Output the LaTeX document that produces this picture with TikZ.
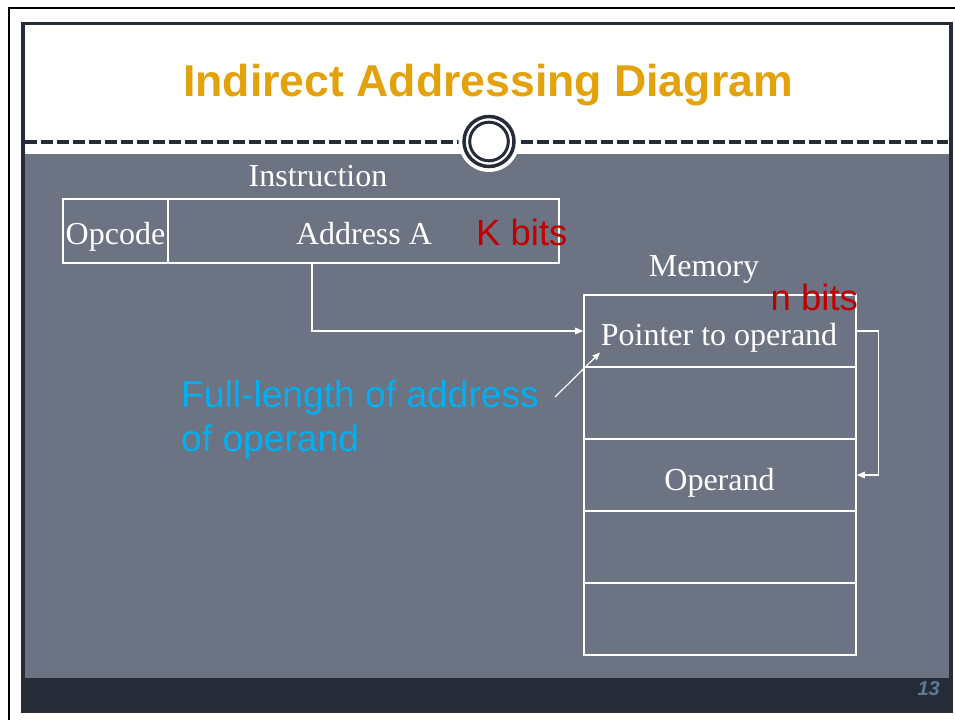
\documentclass[tikz,border=0pt]{standalone}
\usepackage{fontspec}
\setmainfont{Liberation Serif}
\setsansfont{Liberation Sans}
\usetikzlibrary{arrows.meta}
\definecolor{slidegray}{RGB}{108,115,131}
\definecolor{slidedark}{RGB}{38,44,55}
\definecolor{titleorange}{RGB}{228,162,10}
\definecolor{bitred}{RGB}{192,0,0}
\definecolor{notecyan}{RGB}{0,176,240}
\definecolor{pagenum}{RGB}{95,122,150}
\begin{document}
\begin{tikzpicture}[x=1pt,y=-1pt,
  cell/.style={draw=white, line width=1.6pt, inner sep=0pt},
  lbl/.style={text=white, font=\fontsize{32}{37}\selectfont, inner sep=0pt, anchor=base},
  bits/.style={text=bitred, font=\sffamily\fontsize{36.5}{40}\selectfont, inner sep=0pt, anchor=base west},
  note/.style={text=notecyan, font=\sffamily\fontsize{37.2}{44}\selectfont, inner sep=0pt, anchor=base west},
  link/.style={draw=white, line width=1.3pt, -{Triangle[length=8pt,width=6.5pt]}}]
\useasboundingbox (0,0) rectangle (955,720);
\fill[white] (0,0) rectangle (955,720);

% outer page edge
\draw[black, line width=2.2pt] (9,720) -- (9,8.3) -- (955,8.3);

% slide body
\fill[white] (23,23.5) rectangle (950.8,154);
\fill[slidegray] (23,154) rectangle (950.8,678);
\fill[slidedark] (21,678) rectangle (952.5,713);
\draw[slidedark, line width=3.5pt] (23,713) -- (23,23.5) -- (950.8,23.5) -- (950.8,713);

% title rule with ring ornament
\draw[slidedark, line width=4.5pt, dash pattern=on 12pt off 4pt] (25,142) -- (948,142);
\fill[white] (489,141.5) circle[radius=30.5];
\draw[slidedark, line width=3.5pt] (489,141.5) circle[radius=25];
\draw[slidedark, line width=3pt] (489,141.5) circle[radius=19.3];

% title
\node[font=\sffamily\bfseries\fontsize{44.6}{50}\selectfont, text=titleorange, inner sep=0pt, anchor=base]
  (title) at (488,96.7) {Indirect Addressing Diagram};

% instruction word
\node[lbl] (instrlbl) at (318,186.7) {Instruction};
\node[cell, minimum width=105pt, minimum height=64pt] (opc) at (115.5,231) {};
\node[cell, minimum width=391pt, minimum height=64pt] (addr) at (363.5,231) {};
\node[lbl] (opctxt) at (115.5,244) {Opcode};
\node[lbl] (addrtxt) at (364,244) {Address A};
\node[bits] (kbits) at (476,245) {K bits};

% memory
\node[lbl] (memlbl) at (704,276) {Memory};
\foreach \i/\yy in {1/331,2/403,3/475,4/547,5/619}
  \node[cell, minimum width=272pt, minimum height=72pt] (m\i) at (720,\yy) {};
\node[lbl] (ptrtxt) at (719,345.7) {Pointer to operand};
\node[lbl] (optxt) at (719.5,490.7) {Operand};
\node[bits] (nbits) at (770.5,310) {n bits};

% address field points into memory
\draw[link] ([xshift=-51.5pt]addr.south) |- (m1.west);
% pointer word points to the operand
\draw[link] (m1.east) -- ++(22,0) |- (m3.east);

% annotation
\node[note] (note1) at (181,407.7) {Full-length of address};
\node[note] (note2) at (181,451.7) {of operand};
\coordinate (notetail) at (555,397);
\coordinate (ptrtip) at (600,352.5);
\draw[draw=white, line width=1.2pt, -{Triangle[length=7.5pt,width=6pt]}] (notetail) -- (ptrtip);

% page number
\node[text=pagenum, font=\sffamily\bfseries\itshape\fontsize{20}{24}\selectfont, inner sep=0pt, anchor=base east]
  (pnum) at (940,695) {13};
\end{tikzpicture}
\end{document}
